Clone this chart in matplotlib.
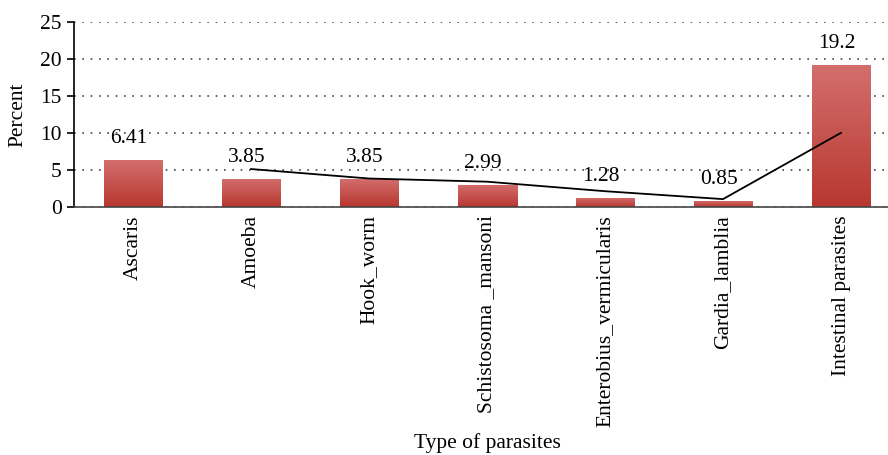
import numpy as np
import pandas as pd
import matplotlib
matplotlib.use("Agg")
import matplotlib.pyplot as plt
from matplotlib.colors import LinearSegmentedColormap

categories = ["Ascaris", "Amoeba", "Hook_worm", "Schistosoma _mansoni",
              "Enterobius_vermicularis", "Gardia_lamblia", "Intestinal parasites"]
values = [6.41, 3.85, 3.85, 2.99, 1.28, 0.85, 19.2]
value_labels = ["6.41", "3.85", "3.85", "2.99", "1.28", "0.85", "19.2"]
yticks = [0, 5, 10, 15, 20, 25]

# 2-period moving average trendline
trend = pd.Series(values).rolling(2).mean()

FS = 15.5
plt.rcParams['font.family'] = ['Liberation Serif', 'DejaVu Serif']
fig = plt.figure(figsize=(8.88, 4.55), dpi=100)
ax = fig.add_axes([74/888, 248/455, 826/888, 185/455])

x = np.arange(len(categories))
bars = ax.bar(x, values, width=0.5, color='#c44a45', zorder=2)

cmap = LinearSegmentedColormap.from_list('g', ['#b8372f', '#d36f6e'])
grad = np.linspace(0, 1, 256).reshape(-1, 1)
for b in bars:
    x0, y0 = b.get_x(), b.get_y()
    w, h = b.get_width(), b.get_height()
    im = ax.imshow(grad, extent=[x0, x0 + w, y0, y0 + h], origin='lower',
                   cmap=cmap, aspect='auto', zorder=2.1)
    im.set_clip_path(b)

ax.plot(x[1:], trend[1:], color='black', lw=1.3, zorder=3)

for xi, v, lab in zip(x, values, value_labels):
    ax.annotate(lab, (xi, v), xytext=(-3, 12), textcoords='offset points',
                ha='center', va='baseline', fontsize=FS, zorder=4)

ax.set_xlim(-0.5, len(categories) - 0.5)
ax.set_ylim(0, 25)
ax.set_yticks(yticks)
ax.set_xticks(x)
ax.set_xticklabels(categories, rotation=90, va='top', ha='center', fontsize=FS)
ax.tick_params(axis='x', length=0, pad=6)
ax.tick_params(axis='y', length=5, width=1.2, labelsize=FS, pad=4, direction='out')
ax.yaxis.grid(True, linestyle=(0, (1, 4)), color='#444444', lw=1.2, zorder=0)
ax.set_axisbelow(True)

for s in ['top', 'right']:
    ax.spines[s].set_visible(False)
ax.spines['left'].set_linewidth(1.2)
ax.spines['bottom'].set_linewidth(1.2)
ax.spines['bottom'].set_color('#444444')

ax.set_ylabel('Percent', fontsize=FS)
ax.yaxis.label.set_va('center')
ax.yaxis.set_label_coords(-56/826, 0.5)
ax.set_xlabel('Type of parasites', fontsize=FS)
ax.xaxis.label.set_va('center')
ax.xaxis.set_label_coords(0.5, -236/185)

fig.savefig('out.png', dpi=100)
